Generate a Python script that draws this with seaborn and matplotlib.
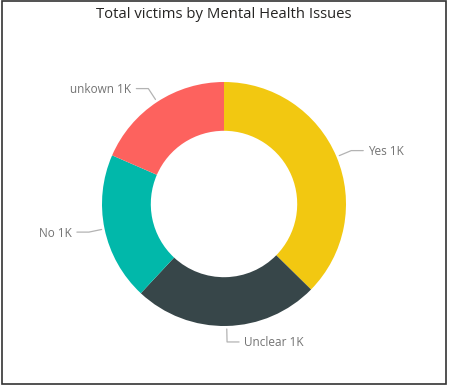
import numpy as np
import matplotlib
matplotlib.use("Agg")
import matplotlib.pyplot as plt
import seaborn as sns
from matplotlib.patches import Rectangle

# data (every slice shows as "1K")
categories = ["Yes", "Unclear", "No", "unkown"]
victims = [1270, 836, 666, 628]
colors = ["#F2C811", "#374649", "#01B8AA", "#FD625E"]

sns.set_theme(style="white")
plt.rcParams["font.family"] = ["Open Sans", "DejaVu Sans"]

W, H = 449, 388
fig = plt.figure(figsize=(W / 100, H / 100), dpi=100)
ax = fig.add_axes([0, 0, 1, 1])

cx, cy, r = 224, H - 204, 122
wedges, _ = ax.pie(victims, colors=sns.color_palette(colors), startangle=90,
                   counterclock=False, radius=r, center=(cx, cy),
                   wedgeprops=dict(width=r * 0.4, edgecolor="none"), frame=True)
ax.set_xlim(0, W)
ax.set_ylim(0, H)
ax.set_aspect("equal")
ax.axis("off")

# leader lines + labels
for w, cat, v in zip(wedges, categories, victims):
    ang = np.deg2rad((w.theta1 + w.theta2) / 2)
    dx, dy = np.cos(ang), np.sin(ang)
    p0 = (cx + (r + 3) * dx, cy + (r + 3) * dy)
    p1 = (cx + (r + 16) * dx, cy + (r + 16) * dy)
    side = 1 if dx >= 0 else -1
    p2 = (p1[0] + side * 12, p1[1])
    ax.plot([p0[0], p1[0], p2[0]], [p0[1], p1[1], p2[1]], color="#B3B3B3", lw=0.9)
    ax.text(p2[0] + side * 5, p2[1] - 1, f"{cat} {v / 1000:.0f}K",
            ha="left" if side > 0 else "right", va="center",
            fontsize=8.5, color="#737373")

fig.text(224 / W, 1 - 15 / H, "Total victims by Mental Health Issues",
         ha="center", va="center", fontsize=10.7, color="#252423")

fig.patches.append(Rectangle((1.5 / W, 4 / H), 444.5 / W, 383 / H,
                             transform=fig.transFigure, fill=False,
                             edgecolor="#333333", lw=1.2))

fig.savefig("out.png", dpi=100, facecolor="white")
